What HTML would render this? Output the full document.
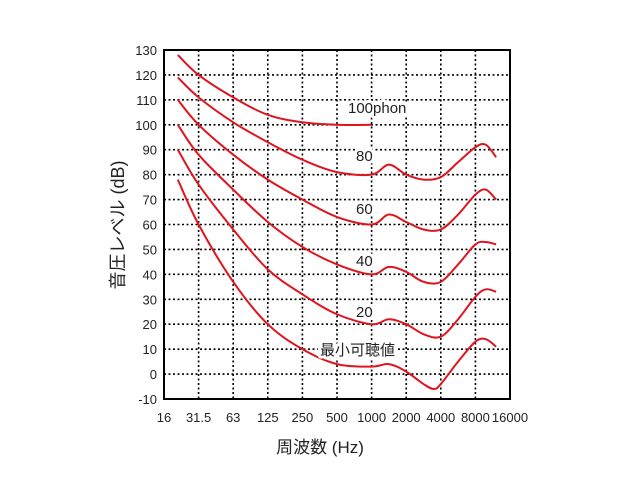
<!DOCTYPE html>
<html><head><meta charset="utf-8"><style>
body{margin:0;background:#fff;}
text{font-family:"Liberation Sans","Noto Sans CJK JP",sans-serif;fill:#222;}
.lbl{paint-order:stroke;stroke:#fff;stroke-width:6px;stroke-linejoin:round;}
</style></head><body>
<svg id="chart" width="640" height="480" viewBox="0 0 640 480" xmlns="http://www.w3.org/2000/svg">
<g id="grid"></g>
<g id="curves"></g>
<rect x="164" y="50" width="346" height="349" fill="none" stroke="#000" stroke-width="2"/>
<g id="ticks"></g>
<text transform="translate(124,225) rotate(-90)" text-anchor="middle" font-size="18">音圧レベル (dB)</text>
<text x="320" y="453" text-anchor="middle" font-size="17">周波数 (Hz)</text>
<text class="lbl" x="348" y="113" font-size="15">100phon</text>
<text class="lbl" x="356" y="161" font-size="15">80</text>
<text class="lbl" x="356" y="214" font-size="15">60</text>
<text class="lbl" x="356" y="266" font-size="15">40</text>
<text class="lbl" x="356" y="317" font-size="15">20</text>
<text class="lbl" x="320" y="355" font-size="15">最小可聴値</text>
</svg>
<script>
const xTicks=["16","31.5","63","125","250","500","1000","2000","4000","8000","16000"];
const yTicks=[-10,0,10,20,30,40,50,60,70,80,90,100,110,120,130];
const octIdx100=[0.4,1,2,3,4,5,6];
const db100=[128,120,111,104,101,100,100];
const octIdx=[0.4,1,2,3,4,5,6,6.5,7,7.5,8,8.5,9,9.3,9.6];
const db80=[119,111,101,93,86,81,80,84,80,78,79,85,91,92,87];
const db60=[110,100,88,78,70,63,60,64,61,58,58,64,72,74,70];
const db40=[100,88,74,61,51,44,40,43,41,37,37,44,52,53,52];
const db20=[90,76,58,42,32,24,20,22,20,16,15,22,31,34,33];
const octIdxT=[0.4,1,2,3,4,5,6,6.5,7,7.5,7.8,8,8.5,9,9.3,9.6];
const dbT=[78,60,37,20,10,4,3,4,1,-4,-6,-4,5,13,14,11];
const X0=164,X1=510,Y0=399,Y1=50;
const xs=i=>X0+i*(X1-X0)/10;
const ys=v=>Y0-(v+10)*(Y0-Y1)/140;
const NS="http://www.w3.org/2000/svg";
const grid=document.getElementById('grid'),ticks=document.getElementById('ticks'),curves=document.getElementById('curves');
function mk(t,a,p){const e=document.createElementNS(NS,t);for(const k in a)e.setAttribute(k,a[k]);p.appendChild(e);return e;}
for(let i=1;i<10;i++){const l=mk('line',{x1:xs(i),x2:xs(i),y1:Y1,y2:Y0,stroke:'#000','stroke-width':1.6,'stroke-dasharray':'2 2.5'},grid);

}
yTicks.forEach(v=>{if(v>-10&&v<130){const l=mk('line',{x1:X0,x2:X1,y1:ys(v),y2:ys(v),stroke:'#000','stroke-width':1.6,'stroke-dasharray':'2 2.5'},grid);

}
const t=mk('text',{x:157,y:ys(v)+5,'text-anchor':'end','font-size':13},ticks);t.textContent=v;

});
xTicks.forEach((s,i)=>{const t=mk('text',{x:xs(i),y:422,'text-anchor':'middle','font-size':13},ticks);t.textContent=s;

});
function path(xi,d){const p=xi.map((x,i)=>[xs(x),ys(d[i])]);let s='M'+p[0][0]+','+p[0][1];
for(let i=0;i<p.length-1;i++){const a=p[i-1]||p[i],b=p[i],c=p[i+1],e=p[i+2]||c;
s+=` C${b[0]+(c[0]-a[0])/6},${b[1]+(c[1]-a[1])/6} ${c[0]-(e[0]-b[0])/6},${c[1]-(e[1]-b[1])/6} ${c[0]},${c[1]}`;}return s;}
[[octIdx100,db100,'curve-100phon'],[octIdx,db80,'curve-80phon'],[octIdx,db60,'curve-60phon'],[octIdx,db40,'curve-40phon'],[octIdx,db20,'curve-20phon'],[octIdxT,dbT,'curve-threshold']].forEach(([xi,d,n])=>{
const e=mk('path',{d:path(xi,d),fill:'none',stroke:'#e0141e','stroke-width':2},curves);

});
</script>
</body></html>
